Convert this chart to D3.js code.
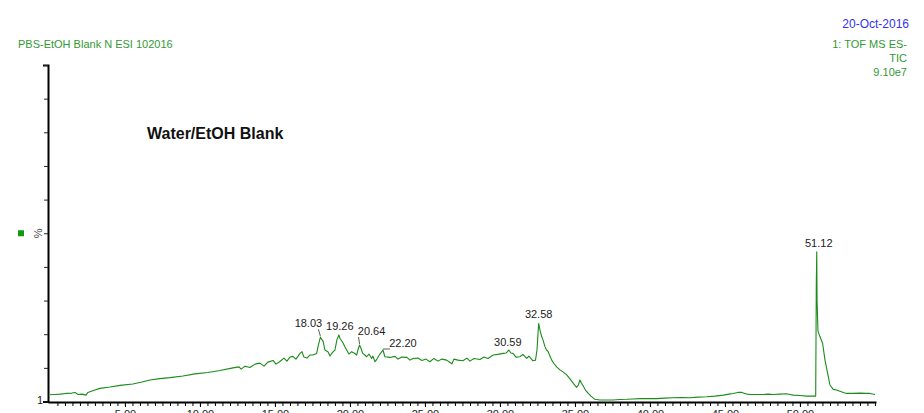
<!DOCTYPE html>
<html>
<head>
<meta charset="utf-8">
<script src="https://cdn.jsdelivr.net/npm/d3@7"></script>
<style>
  html, body { margin: 0; padding: 0; background: #fff; }
  svg { display: block; font-family: "Liberation Sans", Arial, sans-serif; }
</style>
</head>
<body>
<svg id="chart" width="924" height="413"></svg>
<script>
// Retention time (min) of each trace point
const times = [
  0.0, 0.33, 0.67, 1.07, 1.47, 1.67, 1.87, 2.13, 2.4, 2.53, 3.0, 3.33, 4.0, 4.67, 5.53, 6.13, 6.67, 7.33, 8.0, 8.87,
  9.67, 10.53, 11.33, 12.2, 12.6, 12.75, 13.0, 13.33, 13.67, 14.0, 14.27, 14.53, 14.87, 15.07, 15.33, 15.6, 15.8, 16.0, 16.2, 16.4,
  16.67, 16.8, 16.93, 17.13, 17.33, 17.53, 17.78, 17.9, 18.03, 18.22, 18.33, 18.53, 18.67, 18.78, 19.0, 19.13, 19.26, 19.33, 19.55, 19.67,
  19.78, 19.93, 20.11, 20.27, 20.45, 20.53, 20.64, 20.73, 20.85, 21.0, 21.11, 21.27, 21.45, 21.53, 21.67, 21.8, 21.89, 22.0, 22.2, 22.33,
  22.67, 23.0, 23.2, 23.47, 23.8, 24.0, 24.2, 24.53, 24.8, 25.07, 25.33, 25.6, 25.87, 26.13, 26.45, 26.67, 26.8, 26.93, 27.2, 27.53,
  27.8, 28.0, 28.27, 28.67, 28.93, 29.2, 29.55, 29.87, 30.2, 30.4, 30.59, 30.73, 30.87, 31.07, 31.33, 31.53, 31.78, 31.93, 32.2, 32.37,
  32.47, 32.58, 32.67, 32.78, 32.87, 33.0, 33.1, 33.22, 33.33, 33.45, 33.6, 33.78, 34.0, 34.2, 34.45, 34.67, 34.89, 35.11, 35.23, 35.33,
  35.43, 35.55, 35.7, 35.89, 36.07, 36.33, 36.67, 37.11, 37.53, 38.0, 38.45, 38.87, 39.33, 39.87, 40.45, 41.0, 41.53, 42.07, 42.67, 43.2,
  43.78, 44.33, 44.89, 45.27, 45.55, 45.87, 46.11, 46.45, 46.73, 47.11, 47.53, 47.87, 48.22, 48.67, 49.11, 49.33, 49.55, 50.0, 50.45, 50.8,
  51.05, 51.09, 51.12, 51.14, 51.2, 51.33, 51.51, 51.67, 51.89, 52.0, 52.22, 52.44, 52.89, 53.11, 53.55, 54.0, 54.4, 54.67, 55.0
];
// Relative intensity (%) at each retention time
const intensity = [
  2.0, 2.1, 2.2, 2.4, 2.5, 2.7, 2.1, 2.2, 1.9, 2.7, 3.4, 3.9, 4.3, 4.8, 5.2, 5.8, 6.4, 6.8, 7.1, 7.6,
  8.2, 8.6, 9.2, 10.0, 10.3, 9.6, 10.5, 10.1, 11.1, 11.4, 10.5, 11.7, 12.2, 11.1, 11.9, 12.9, 12.0, 13.2, 13.4, 12.6,
  14.3, 14.8, 13.2, 12.9, 13.8, 13.8, 14.3, 16.8, 19.1, 17.8, 15.3, 14.8, 13.5, 14.3, 15.3, 18.3, 19.8, 18.8, 17.3, 16.2,
  15.3, 14.1, 14.8, 14.4, 13.8, 15.3, 16.8, 15.9, 14.3, 13.8, 13.3, 14.1, 12.8, 13.5, 11.8, 12.6, 13.3, 14.1, 15.3, 13.3,
  13.1, 13.4, 12.6, 13.2, 13.1, 12.3, 12.8, 12.9, 12.2, 12.6, 11.8, 12.8, 12.0, 12.6, 12.3, 11.6, 11.2, 12.6, 12.3, 12.1,
  12.9, 12.0, 12.8, 12.5, 13.2, 12.8, 13.8, 14.0, 14.3, 14.4, 15.3, 14.4, 14.3, 13.2, 13.3, 14.0, 12.8, 13.5, 12.1, 12.3,
  15.3, 23.2, 21.2, 19.3, 18.3, 16.3, 15.3, 14.8, 13.5, 12.3, 11.3, 10.3, 9.4, 8.8, 7.9, 6.7, 5.4, 4.2, 4.9, 6.4,
  5.5, 4.6, 3.4, 2.4, 1.6, 0.65, 0.45, 0.45, 0.45, 0.6, 0.65, 0.75, 0.85, 0.9, 0.85, 1.0, 1.1, 1.2, 1.1, 1.3,
  1.4, 1.6, 1.9, 2.2, 2.4, 2.7, 2.7, 2.2, 2.1, 2.1, 2.1, 2.2, 2.1, 2.2, 2.3, 2.1, 1.9, 1.8, 1.6, 1.6,
  1.6, 35.0, 44.5, 30.0, 21.0, 19.3, 17.3, 12.3, 7.4, 4.9, 3.6, 3.4, 2.7, 2.4, 2.4, 2.5, 2.4, 2.4, 2.1
];
// Labelled peaks (retention time, min)
const peakTimes = [18.03, 19.26, 20.64, 22.20, 30.59, 32.58, 51.12];
// X-axis labelled ticks (min)
const xTickLabels = [5, 10, 15, 20, 25, 30, 35, 40, 45, 50];

const header = {
  left: "PBS-EtOH Blank N ESI 102016",
  date: "20-Oct-2016",
  lines: ["1: TOF MS ES-", "TIC", "9.10e7"],
  title: "Water/EtOH Blank"
};

const svg = d3.select("#chart");
const x = d3.scaleLinear().domain([-0.13, 55.07]).range([48, 876]);
const y = d3.scaleLinear().domain([0, 100]).range([401.5, 65]);

const green = "#339933";

// Header texts
svg.append("text").attr("x", 18).attr("y", 48).attr("font-size", 11).attr("fill", green).text(header.left);
svg.append("text").attr("x", 909).attr("y", 28).attr("font-size", 12).attr("fill", "#3333ee")
  .attr("text-anchor", "end").text(header.date);
header.lines.forEach((t, i) => {
  svg.append("text").attr("x", 907).attr("y", 48 + i * 14).attr("font-size", 11).attr("fill", green)
    .attr("text-anchor", "end").text(t);
});
svg.append("text").attr("x", 147).attr("y", 139).attr("font-size", 16).attr("font-weight", "bold")
  .attr("fill", "#111").text(header.title);

// Trace
const line = d3.line().x((d, i) => x(times[i])).y(d => y(d));
svg.append("path").datum(intensity).attr("d", line)
  .attr("fill", "none").attr("stroke", "#1a8c1a").attr("stroke-width", 1.1).attr("stroke-linejoin", "round");

// Y axis
const yAxis = svg.append("g").attr("transform", "translate(48,0)")
  .call(d3.axisLeft(y).tickValues(d3.range(0, 101, 10)).tickSize(4).tickSizeOuter(5).tickFormat(() => ""));
yAxis.select(".domain").attr("stroke-width", 2);
yAxis.selectAll(".tick line").attr("stroke", "#222");
svg.append("text").attr("x", 40).attr("y", 404).attr("font-size", 11).attr("text-anchor", "middle")
  .attr("fill", "#222").text("1");
svg.append("text").attr("transform", `translate(42,${y(50)}) rotate(-90)`).attr("font-size", 11)
  .attr("text-anchor", "middle").attr("fill", "#444").text("%");
svg.append("rect").attr("x", 18).attr("y", y(50) - 3).attr("width", 6).attr("height", 6).attr("fill", "#119911");

// X axis: minor ticks every 0.5 min, labelled ticks every 5 min
const xMinor = svg.append("g").attr("transform", "translate(0,402)")
  .call(d3.axisBottom(x).tickValues(d3.range(0.5, 55.01, 0.5)).tickSize(4).tickSizeOuter(0).tickFormat(() => ""));
xMinor.select(".domain").attr("stroke-width", 2);
const xMajor = svg.append("g").attr("transform", "translate(0,402)")
  .call(d3.axisBottom(x).tickValues(xTickLabels).tickSize(5).tickSizeOuter(0).tickFormat(d3.format(".2f")));
xMajor.select(".domain").remove();
xMajor.selectAll("text").attr("font-size", 11).attr("fill", "#222").attr("font-family", "Liberation Sans, Arial, sans-serif")
  .attr("dy", 0).attr("y", 16);

// Peak labels with leader lines
const labelOffsets = {
  18.03: [-12, -10], 19.26: [1, -5], 20.64: [12, -10], 22.20: [20, -3],
  30.59: [-1, -4], 32.58: [0, -5], 51.12: [2, -5]
};
peakTimes.forEach(t => {
  const i = times.indexOf(t);
  const px = x(t), py = y(intensity[i]);
  const [dx, dy] = labelOffsets[t];
  const tx = px + dx, ty = py + dy;
  svg.append("text").attr("x", tx).attr("y", ty).attr("font-size", 11).attr("text-anchor", "middle")
    .attr("fill", "#222").text(d3.format(".2f")(t));
  if (Math.abs(dx) > 5) {
    const lx = dx < 0 ? tx + 10 : tx - 13;
    svg.append("line").attr("x1", lx).attr("y1", ty + 2).attr("x2", px).attr("y2", py - 1)
      .attr("stroke", "#333").attr("stroke-width", 0.8);
  }
});
</script>
</body>
</html>
